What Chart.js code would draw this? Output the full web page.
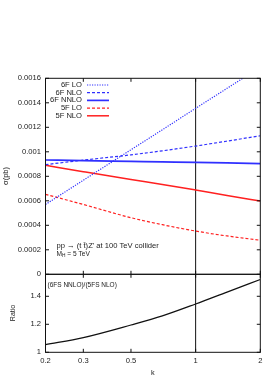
<!DOCTYPE html>
<html><head><meta charset="utf-8">
<script src="https://cdn.jsdelivr.net/npm/chart.js@4/dist/chart.umd.min.js"></script>
<style>
html,body{margin:0;padding:0;background:#fff;}
#wrap{position:relative;width:274px;height:392px;}
canvas{position:absolute;left:0;top:0;}
</style></head>
<body><div id="wrap"><canvas id="c1" width="274" height="392"></canvas><canvas id="c2" width="274" height="392"></canvas></div>
<script>
// ---- data ----
const kValues   = [0.2, 0.3, 0.5, 0.7, 1, 1.4, 2];
const lo6F      = [0.00057, 0.000768, 0.001017, 0.00118, 0.001355, 0.001518, 0.001692];
const nlo6F     = [0.000895, 0.000932, 0.000975, 0.001008, 0.001047, 0.001087, 0.001131];
const nnlo6F    = [0.000933, 0.000928, 0.000922, 0.000918, 0.000914, 0.000909, 0.000903];
const lo5F      = [0.000653, 0.00057, 0.000462, 0.000405, 0.000353, 0.000313, 0.000278];
const nlo5F     = [0.00089, 0.000838, 0.000774, 0.000734, 0.000688, 0.000643, 0.000598];
const ratio     = [1.055, 1.105, 1.195, 1.26, 1.345, 1.43, 1.52];
const kTicks    = [0.2, 0.3, 0.5, 1, 2];
const kTickLabels = ['0.2', '0.3', '0.5', '1', '2'];
const sigmaTicks = [0, 0.0002, 0.0004, 0.0006, 0.0008, 0.001, 0.0012, 0.0014, 0.0016];
const sigmaTickLabels = ['0', '0.0002', '0.0004', '0.0006', '0.0008', '0.001', '0.0012', '0.0014', '0.0016'];
const ratioTicks = [1, 1.2, 1.4];
const ratioTickLabels = ['1', '1.2', '1.4'];
const seriesNames = ['6F LO', '6F NLO', '6F NNLO', '5F LO', '5F NLO'];
const kLine = 1;

const FONT = 'Liberation Sans, Arial, Helvetica, sans-serif';
const TXT = '#222';
const BLUE = '#3030ff';
const RED = '#ff2020';
const W = 274, H = 392;
const PLOT_L = 45.5, PLOT_R = 260.3, TOP1 = 78.3, SPLIT = 274.3, BOT2 = 352.3;

const pts = arr => kValues.map((k, i) => ({x: k, y: arr[i]}));

const styles = [
  {color: BLUE, width: 1.2, dash: [1.2, 1.3]},
  {color: BLUE, width: 1.2, dash: [3, 2]},
  {color: BLUE, width: 1.7, dash: []},
  {color: RED,  width: 1.2, dash: [3, 2]},
  {color: RED,  width: 1.5, dash: []},
];
const seriesData = [lo6F, nlo6F, nnlo6F, lo5F, nlo5F];

function frameAndTicks(chart, xTicks, yTicks) {
  const ca = chart.chartArea, ctx = chart.ctx;
  const xs = chart.scales.x, ys = chart.scales.y;
  ctx.save();
  ctx.strokeStyle = '#111';
  ctx.lineWidth = 1;
  ctx.beginPath();
  const tl = 3.5;
  yTicks.forEach(v => {
    const p = ys.getPixelForValue(v);
    ctx.moveTo(ca.left, p); ctx.lineTo(ca.left + tl, p);
    ctx.moveTo(ca.right, p); ctx.lineTo(ca.right - tl, p);
  });
  xTicks.forEach(v => {
    const p = xs.getPixelForValue(v);
    ctx.moveTo(p, ca.bottom); ctx.lineTo(p, ca.bottom - tl);
    ctx.moveTo(p, ca.top); ctx.lineTo(p, ca.top + tl);
  });
  ctx.stroke();
  ctx.strokeRect(ca.left, ca.top, ca.right - ca.left, ca.bottom - ca.top);
  ctx.restore();
}

function rotText(ctx, txt, x, y, size) {
  ctx.save();
  ctx.translate(x, y);
  ctx.rotate(-Math.PI / 2);
  ctx.font = size + 'px ' + FONT;
  ctx.fillStyle = TXT;
  ctx.textAlign = 'center';
  ctx.textBaseline = 'middle';
  ctx.fillText(txt, 0, 0);
  ctx.restore();
}

const topPlugin = {
  id: 'topDeco',
  afterDraw(chart) {
    frameAndTicks(chart, kTicks, sigmaTicks);
    const ctx = chart.ctx;
    rotText(ctx, 'σ(pb)', 5.5, 176, 7.5);
    // legend
    ctx.save();
    ctx.font = '7.6px ' + FONT;
    ctx.fillStyle = TXT;
    ctx.textAlign = 'right';
    ctx.textBaseline = 'middle';
    seriesNames.forEach((n, i) => {
      const y = 85 + i * 7.7;
      ctx.fillText(n, 82, y);
      const s = styles[i];
      ctx.beginPath();
      ctx.strokeStyle = s.color;
      ctx.lineWidth = s.width;
      ctx.setLineDash(s.dash);
      ctx.moveTo(87, y); ctx.lineTo(109, y);
      ctx.stroke();
    });
    ctx.setLineDash([]);
    // annotation
    ctx.textAlign = 'left';
    ctx.font = '7.6px ' + FONT;
    ctx.fillText("pp → (t t\u0304)Z' at 100 TeV collider", 56.5, 246);
    ctx.font = '6.6px ' + FONT;
    ctx.fillText('M', 56.5, 253.8);
    const mw = ctx.measureText('M').width;
    ctx.font = '4.8px ' + FONT;
    ctx.fillText('H', 56.5 + mw, 255.5);
    const hw = ctx.measureText('H').width;
    ctx.font = '6.6px ' + FONT;
    ctx.fillText(' = 5 TeV', 56.5 + mw + hw, 253.8);
    ctx.restore();
  }
};

const botPlugin = {
  id: 'botDeco',
  afterDraw(chart) {
    frameAndTicks(chart, kTicks, ratioTicks);
    const ctx = chart.ctx;
    rotText(ctx, 'Ratio', 13.5, 313, 7);
    ctx.save();
    ctx.font = '6.5px ' + FONT;
    ctx.fillStyle = TXT;
    ctx.textAlign = 'left';
    ctx.textBaseline = 'middle';
    ctx.fillText('(6FS NNLO)/(5FS NLO)', 47.5, 285.5);
    ctx.font = '7.3px ' + FONT;
    ctx.textAlign = 'center';
    ctx.fillText('k', (PLOT_L + PLOT_R) / 2, 372.5);
    ctx.restore();
  }
};

const tickFont = {family: FONT, size: 7.6};

new Chart(document.getElementById('c1'), {
  type: 'line',
  data: {
    datasets: seriesNames.map((n, i) => ({
      label: n,
      data: pts(seriesData[i]),
      borderColor: styles[i].color,
      borderWidth: styles[i].width,
      borderDash: styles[i].dash,
      pointRadius: 0,
      cubicInterpolationMode: 'monotone',
      fill: false
    })).concat([{
      label: 'k = 1',
      data: [{x: kLine, y: sigmaTicks[0]}, {x: kLine, y: sigmaTicks[sigmaTicks.length - 1]}],
      borderColor: '#111', borderWidth: 1, pointRadius: 0
    }])
  },
  options: {
    responsive: false, animation: false, devicePixelRatio: 1,
    layout: {padding: {left: 0, top: TOP1, right: W - PLOT_R, bottom: H - SPLIT}},
    plugins: {legend: {display: false}, tooltip: {enabled: false}},
    scales: {
      x: {type: 'logarithmic', min: kTicks[0], max: kTicks[kTicks.length - 1], display: false},
      y: {
        type: 'linear', min: sigmaTicks[0], max: sigmaTicks[sigmaTicks.length - 1],
        afterFit: s => { s.width = PLOT_L; },
        afterBuildTicks: s => { s.ticks = sigmaTicks.map(v => ({value: v})); },
        grid: {display: false, drawTicks: false},
        border: {display: false},
        ticks: {font: tickFont, color: TXT, padding: 4.5,
          callback: (v, i) => sigmaTickLabels[i]}
      }
    }
  },
  plugins: [topPlugin]
});

new Chart(document.getElementById('c2'), {
  type: 'line',
  data: {
    datasets: [{
      label: '(6FS NNLO)/(5FS NLO)',
      data: pts(ratio),
      borderColor: '#111', borderWidth: 1.2, pointRadius: 0,
      cubicInterpolationMode: 'monotone', fill: false
    }, {
      label: 'k = 1',
      data: [{x: kLine, y: 1}, {x: kLine, y: 1.557}],
      borderColor: '#111', borderWidth: 1, pointRadius: 0
    }]
  },
  options: {
    responsive: false, animation: false, devicePixelRatio: 1,
    layout: {padding: {left: 0, top: SPLIT, right: W - PLOT_R, bottom: 0}},
    plugins: {legend: {display: false}, tooltip: {enabled: false}},
    scales: {
      x: {
        type: 'logarithmic', min: kTicks[0], max: kTicks[kTicks.length - 1],
        afterFit: s => { s.height = H - BOT2; },
        afterBuildTicks: s => { s.ticks = kTicks.map(v => ({value: v})); },
        grid: {display: false, drawTicks: false},
        border: {display: false},
        ticks: {font: tickFont, color: TXT, padding: 4.5, maxRotation: 0, autoSkip: false,
          callback: (v, i) => kTickLabels[i]}
      },
      y: {
        type: 'linear', min: 1, max: 1.557,
        afterFit: s => { s.width = PLOT_L; },
        afterBuildTicks: s => { s.ticks = ratioTicks.map(v => ({value: v})); },
        grid: {display: false, drawTicks: false},
        border: {display: false},
        ticks: {font: tickFont, color: TXT, padding: 4.5,
          callback: (v, i) => ratioTickLabels[i]}
      }
    }
  },
  plugins: [botPlugin]
});
</script>
</body></html>
